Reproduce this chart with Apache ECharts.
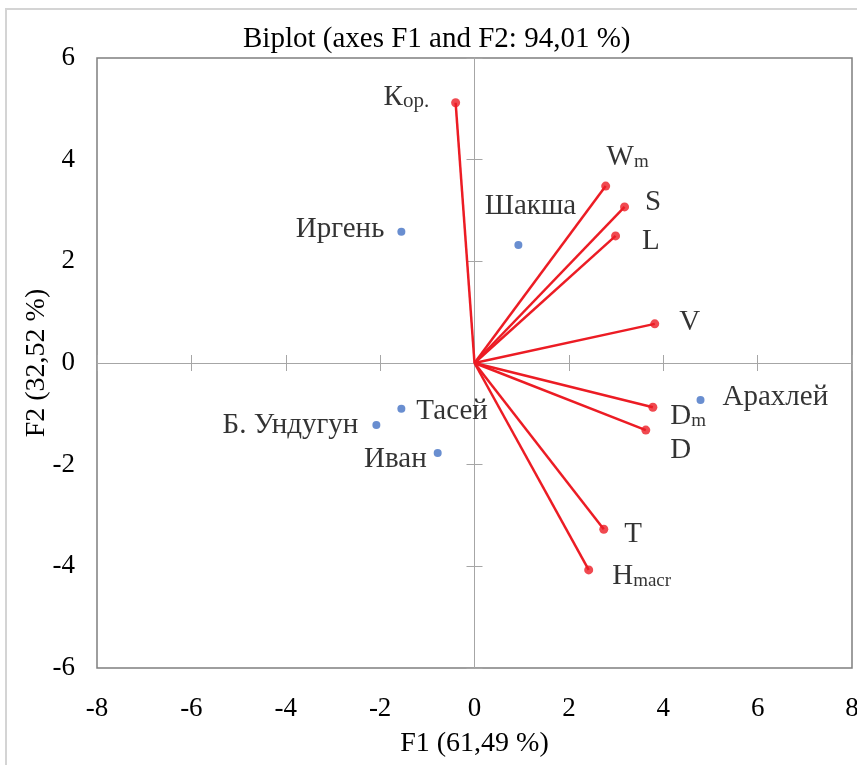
<!DOCTYPE html>
<html>
<head>
<meta charset="utf-8">
<script src="https://cdn.jsdelivr.net/npm/echarts@6/dist/echarts.min.js"></script>
<style>html,body{margin:0;padding:0;background:#fff;}#c{width:857px;height:765px;}</style>
</head>
<body>
<div id="c"></div>
<script>
// ---- data ----
const varNames = ['Кор.', 'Wm', 'S', 'L', 'V', 'Dm', 'D', 'T', 'Hmacr'];
const varLabels = ['{m|К}{k|ор.}', '{m|W}{s|m}', '{m|S}', '{m|L}', '{m|V}', '{m|D}{s|m}', '{m|D}', '{m|T}', '{m|H}{s|macr}'];
const varX = [-0.40, 2.78, 3.18, 2.99, 3.82, 3.78, 3.63, 2.74, 2.42];
const varY = [5.12, 3.48, 3.07, 2.50, 0.77, -0.87, -1.32, -3.27, -4.07];
const obsNames = ['Иргень', 'Шакша', 'Арахлей', 'Тасей', 'Б. Ундугун', 'Иван'];
const obsX = [-1.55, 0.93, 4.79, -1.55, -2.08, -0.78];
const obsY = [2.58, 2.32, -0.73, -0.90, -1.22, -1.77];
const xTicks = [-8, -6, -4, -2, 0, 2, 4, 6, 8];
const yTicks = [-6, -4, -2, 0, 2, 4, 6];

// ---- label placement (style only) ----
const varLabelPos = [
  {position: 'left', distance: 22, offset: [0, -5]},
  {position: 'top', distance: 4, offset: [22, -6]},
  {position: 'right', distance: 16, offset: [0, -5]},
  {position: 'right', distance: 22, offset: [0, 5]},
  {position: 'right', distance: 20, offset: [0, -1]},
  {position: 'right', distance: 13, offset: [0, 9]},
  {position: 'right', distance: 20, offset: [0, 20]},
  {position: 'right', distance: 16, offset: [0, 5]},
  {position: 'right', distance: 19, offset: [0, 6]}
];
const obsLabelPos = [
  {position: 'left', distance: 13, offset: [0, -2]},
  {position: 'top', distance: 20, offset: [12, 0]},
  {position: 'right', distance: 18, offset: [0, -3]},
  {position: 'right', distance: 11, offset: [0, 3]},
  {position: 'left', distance: 14, offset: [0, 0]},
  {position: 'left', distance: 7, offset: [0, 6]}
];

const FONT = '"Liberation Serif", "Times New Roman", serif';
const RED = '#ec1c24';
const BLUE = '#4472c4';
const AX = '#a6a6a6';

const chart = echarts.init(document.getElementById('c'));

function valAxis(extra) {
  return Object.assign({
    type: 'value', interval: 2,
    splitLine: {show: false}
  }, extra);
}

const xMin = xTicks[0], xMax = xTicks[xTicks.length - 1];
const yMin = yTicks[0], yMax = yTicks[yTicks.length - 1];

const option = {
  animation: false,
  backgroundColor: '#fff',
  title: {
    text: 'Biplot (axes F1 and F2: 94,01 %)',
    left: 238, top: 20,
    textStyle: {fontFamily: FONT, fontSize: 29, fontWeight: 'normal', color: '#000'}
  },
  graphic: [{
    type: 'rect', silent: true, z: -10,
    shape: {x: 6, y: 9, width: 900, height: 800},
    style: {fill: 'none', stroke: '#d4d4d4', lineWidth: 2}
  }],
  grid: {
    left: 97, right: 5, top: 58, bottom: 97,
    outerBoundsMode: 'none', containLabel: false,
    show: true, borderColor: '#7f7f7f', borderWidth: 1.5, backgroundColor: 'transparent'
  },
  xAxis: [
    valAxis({
      min: xMin, max: xMax, position: 'bottom',
      axisLine: {show: false, onZero: false},
      axisTick: {show: false},
      axisLabel: {fontFamily: FONT, fontSize: 27, color: '#000', margin: 27},
      name: 'F1 (61,49 %)', nameLocation: 'middle', nameGap: 62, nameMoveOverlap: false,
      nameTextStyle: {fontFamily: FONT, fontSize: 28, color: '#000'}
    }),
    valAxis({
      min: xMin, max: xMax, position: 'bottom',
      axisLine: {show: true, onZero: true, onZeroAxisIndex: 0, lineStyle: {color: AX, width: 1}},
      axisTick: {show: true, inside: true, length: 8, lineStyle: {color: AX, width: 1}},
      axisLabel: {show: false}
    }),
    valAxis({
      min: xMin, max: xMax, position: 'bottom',
      axisLine: {show: true, onZero: true, onZeroAxisIndex: 0, lineStyle: {color: AX, width: 1}},
      axisTick: {show: true, inside: false, length: 8, lineStyle: {color: AX, width: 1}},
      axisLabel: {show: false}
    })
  ],
  yAxis: [
    valAxis({
      min: yMin, max: yMax, position: 'left',
      axisLine: {show: false, onZero: false},
      axisTick: {show: false},
      axisLabel: {fontFamily: FONT, fontSize: 27, color: '#000', margin: 22},
      name: 'F2 (32,52 %)', nameLocation: 'middle', nameGap: 46, nameMoveOverlap: false,
      nameTextStyle: {fontFamily: FONT, fontSize: 28, color: '#000'}
    }),
    valAxis({
      min: yMin, max: yMax, position: 'left',
      axisLine: {show: true, onZero: true, onZeroAxisIndex: 0, lineStyle: {color: AX, width: 1}},
      axisTick: {show: true, inside: true, length: 8, lineStyle: {color: AX, width: 1}},
      axisLabel: {show: false}
    }),
    valAxis({
      min: yMin, max: yMax, position: 'left',
      axisLine: {show: true, onZero: true, onZeroAxisIndex: 0, lineStyle: {color: AX, width: 1}},
      axisTick: {show: true, inside: false, length: 8, lineStyle: {color: AX, width: 1}},
      axisLabel: {show: false}
    })
  ],
  series: [
    {
      type: 'lines', coordinateSystem: 'cartesian2d', xAxisIndex: 0, yAxisIndex: 0,
      silent: true, z: 3,
      lineStyle: {color: RED, width: 2.5, opacity: 1},
      data: varX.map((x, i) => ({name: varNames[i], coords: [[0, 0], [x, varY[i]]]}))
    },
    {
      type: 'scatter', xAxisIndex: 0, yAxisIndex: 0, z: 4,
      symbolSize: 9, itemStyle: {color: RED},
      data: varX.map((x, i) => ({
        name: varNames[i], value: [x, varY[i]],
        label: Object.assign({show: true, formatter: varLabels[i]}, varLabelPos[i])
      })),
      label: {
        rich: {
          m: {fontFamily: FONT, fontSize: 29, color: '#000', verticalAlign: 'bottom'},
          s: {fontFamily: FONT, fontSize: 19, color: '#000', verticalAlign: 'bottom'},
          k: {fontFamily: FONT, fontSize: 21, color: '#000', verticalAlign: 'bottom'}
        }
      }
    },
    {
      type: 'scatter', xAxisIndex: 0, yAxisIndex: 0, z: 4,
      symbolSize: 8, itemStyle: {color: BLUE},
      data: obsX.map((x, i) => ({
        name: obsNames[i], value: [x, obsY[i]],
        label: Object.assign({show: true, formatter: obsNames[i]}, obsLabelPos[i])
      })),
      label: {fontFamily: FONT, fontSize: 29, color: '#000'}
    }
  ]
};
chart.setOption(option);
</script>
</body>
</html>
